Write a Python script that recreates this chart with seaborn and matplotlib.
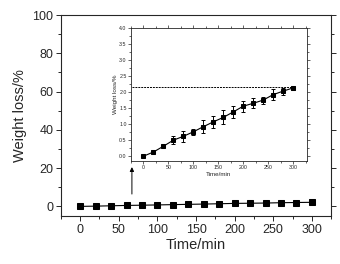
import numpy as np
import pandas as pd
import matplotlib
matplotlib.use('Agg')
import matplotlib.pyplot as plt
import seaborn as sns

time_min = [0, 20, 40, 60, 80, 100, 120, 140, 160, 180, 200, 220, 240, 260, 280, 300]
weight_loss = [0.0, 0.13, 0.31, 0.50, 0.62, 0.76, 0.92, 1.07, 1.21, 1.38, 1.56, 1.65, 1.75, 1.92, 2.03, 2.13]
weight_err = [0.02, 0.03, 0.03, 0.12, 0.17, 0.10, 0.21, 0.18, 0.22, 0.19, 0.17, 0.16, 0.11, 0.17, 0.11, 0.05]
plateau = 2.15

df = pd.DataFrame({'Time/min': time_min, 'Weight loss/%': weight_loss, 'err': weight_err})

sns.set_style('ticks')
plt.rcParams['font.family'] = ['Liberation Sans', 'DejaVu Sans']

fig = plt.figure(figsize=(3.4, 2.64), dpi=100)
ax = fig.add_axes([0.179, 0.182, 0.795, 0.761])

sns.lineplot(data=df, x='Time/min', y='Weight loss/%', ax=ax, color='black',
             marker='s', markersize=3.8, linewidth=0.8, markeredgecolor='black')
ax.set_xlim(-25, 325)
ax.set_ylim(-5, 100)
ax.set_xticks(range(0, 301, 50))
ax.set_yticks(range(0, 101, 20))
ax.set_xticks(range(-25, 326, 25), minor=True)
ax.set_yticks(range(0, 101, 10), minor=True)
ax.tick_params(which='both', direction='out', top=False, right=True,
               labelright=False, labelsize=9, width=0.7, pad=2)
ax.tick_params(which='major', length=3.5)
ax.tick_params(which='minor', length=2)
ax.set_xlabel('Time/min', fontsize=10.5, labelpad=2)
ax.set_ylabel('Weight loss/%', fontsize=10.5, labelpad=4)
for s in ax.spines.values():
    s.set_linewidth(0.8)

ax.annotate('', xy=(67, 22), xytext=(67, 5),
            arrowprops=dict(arrowstyle='-|>', color='black', lw=0.7, mutation_scale=6))

ins = fig.add_axes([0.385, 0.39, 0.518, 0.504])
ins.errorbar(df['Time/min'], df['Weight loss/%'], yerr=df['err'], fmt='none',
             ecolor='black', elinewidth=0.7, capsize=1.5, capthick=0.7)
sns.lineplot(data=df, x='Time/min', y='Weight loss/%', ax=ins, color='black',
             marker='s', markersize=2.8, linewidth=0.8, markeredgecolor='black')
ins.plot([-22, 300], [plateau, plateau], ls=(0, (2, 1)), color='black', lw=0.7)
ins.set_xlim(-22, 328)
ins.set_ylim(-0.15, 4.0)
ins.set_xticks(range(0, 301, 50))
ins.set_yticks(np.arange(0, 4.01, 0.5))
ins.set_yticklabels([f'{v:.1f}' for v in np.arange(0, 4.01, 0.5)])
ins.set_xticks(range(-25, 326, 25), minor=True)
ins.set_yticks(np.arange(0, 4.01, 0.25), minor=True)
ins.tick_params(which='both', direction='out', top=True, right=True, labeltop=False,
                labelright=False, labelsize=3.8, width=0.5, pad=1)
ins.tick_params(which='major', length=2)
ins.tick_params(which='minor', length=1.2)
ins.set_xlabel('Time/min', fontsize=4.5, labelpad=1)
ins.set_ylabel('Weight loss/%', fontsize=4.5, labelpad=1)
for s in ins.spines.values():
    s.set_linewidth(0.6)

fig.savefig('out.png', dpi=100)
